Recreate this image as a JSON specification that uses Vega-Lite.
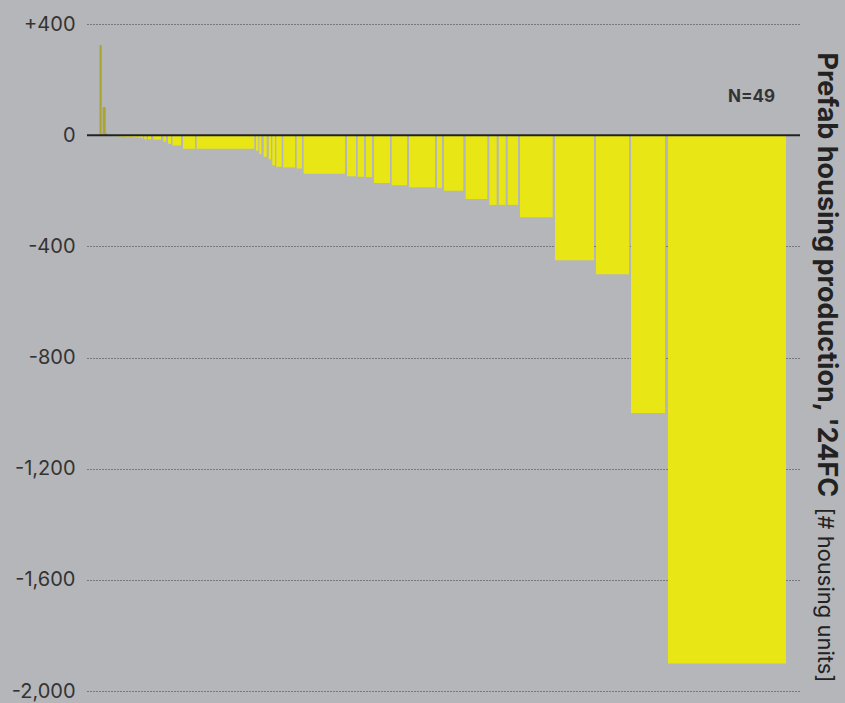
{
  "$schema": "https://vega.github.io/schema/vega-lite/v6.json",
  "width": 713,
  "height": 667,
  "autosize": {"type": "none"},
  "padding": {"left": 87, "top": 24, "right": 45, "bottom": 12},
  "background": "#b5b6b9",
  "config": {
    "view": {"stroke": null},
    "font": "Inter"
  },
  "datasets": {
    "bars": [
      {"x0": 12.5, "x1": 14.7, "value": 324, "sign": "pos"},
      {"x0": 15.7, "x1": 18.7, "value": 101, "sign": "pos"},
      {"x0": 19.0, "x1": 20.0, "value": 8, "sign": "pos"},
      {"x0": 20.5, "x1": 23.0, "value": -3, "sign": "neg"},
      {"x0": 23.5, "x1": 26.0, "value": -3, "sign": "neg"},
      {"x0": 26.5, "x1": 29.0, "value": -4, "sign": "neg"},
      {"x0": 29.5, "x1": 32.0, "value": -4, "sign": "neg"},
      {"x0": 32.5, "x1": 35.0, "value": -5, "sign": "neg"},
      {"x0": 35.5, "x1": 38.0, "value": -5, "sign": "neg"},
      {"x0": 38.5, "x1": 41.0, "value": -6, "sign": "neg"},
      {"x0": 41.5, "x1": 44.0, "value": -6, "sign": "neg"},
      {"x0": 44.5, "x1": 47.0, "value": -7, "sign": "neg"},
      {"x0": 47.5, "x1": 50.0, "value": -8, "sign": "neg"},
      {"x0": 50.5, "x1": 53.0, "value": -9, "sign": "neg"},
      {"x0": 53.5, "x1": 56.0, "value": -10, "sign": "neg"},
      {"x0": 57.3, "x1": 59.5, "value": -15, "sign": "neg"},
      {"x0": 61.0, "x1": 64.0, "value": -15, "sign": "neg"},
      {"x0": 66.5, "x1": 74.0, "value": -16, "sign": "neg"},
      {"x0": 76.5, "x1": 79.0, "value": -23, "sign": "neg"},
      {"x0": 81.0, "x1": 84.0, "value": -31, "sign": "neg"},
      {"x0": 85.5, "x1": 94.0, "value": -37, "sign": "neg"},
      {"x0": 96.0, "x1": 108.0, "value": -49, "sign": "neg"},
      {"x0": 109.7, "x1": 167.3, "value": -49, "sign": "neg"},
      {"x0": 169.0, "x1": 171.3, "value": -56, "sign": "neg"},
      {"x0": 172.3, "x1": 174.3, "value": -68, "sign": "neg"},
      {"x0": 176.7, "x1": 179.7, "value": -78, "sign": "neg"},
      {"x0": 181.7, "x1": 184.0, "value": -87, "sign": "neg"},
      {"x0": 185.3, "x1": 188.0, "value": -108, "sign": "neg"},
      {"x0": 189.3, "x1": 194.7, "value": -114, "sign": "neg"},
      {"x0": 196.3, "x1": 208.0, "value": -116, "sign": "neg"},
      {"x0": 209.7, "x1": 215.0, "value": -120, "sign": "neg"},
      {"x0": 216.7, "x1": 258.0, "value": -139, "sign": "neg"},
      {"x0": 260.0, "x1": 269.0, "value": -148, "sign": "neg"},
      {"x0": 270.7, "x1": 277.0, "value": -150, "sign": "neg"},
      {"x0": 279.0, "x1": 285.0, "value": -151, "sign": "neg"},
      {"x0": 287.0, "x1": 303.0, "value": -172, "sign": "neg"},
      {"x0": 304.7, "x1": 320.0, "value": -180, "sign": "neg"},
      {"x0": 322.0, "x1": 348.0, "value": -187, "sign": "neg"},
      {"x0": 350.0, "x1": 355.0, "value": -190, "sign": "neg"},
      {"x0": 357.0, "x1": 376.3, "value": -200, "sign": "neg"},
      {"x0": 378.7, "x1": 400.3, "value": -230, "sign": "neg"},
      {"x0": 402.3, "x1": 409.7, "value": -251, "sign": "neg"},
      {"x0": 411.7, "x1": 418.7, "value": -251, "sign": "neg"},
      {"x0": 420.7, "x1": 431.0, "value": -251, "sign": "neg"},
      {"x0": 433.0, "x1": 465.7, "value": -295, "sign": "neg"},
      {"x0": 468.0, "x1": 507.0, "value": -450, "sign": "neg"},
      {"x0": 509.0, "x1": 542.0, "value": -500, "sign": "neg"},
      {"x0": 544.0, "x1": 578.0, "value": -1000, "sign": "neg"},
      {"x0": 581.0, "x1": 699.0, "value": -1901, "sign": "neg"}
    ]
  },
  "layer": [
    {
      "data": {"name": "bars"},
      "mark": {"type": "bar"},
      "encoding": {
        "x": {"field": "x0", "type": "quantitative", "scale": {"domain": [0, 713], "nice": false, "zero": false}, "axis": null},
        "x2": {"field": "x1"},
        "y": {
          "field": "value", "type": "quantitative",
          "scale": {"domain": [-2000, 400], "nice": false},
          "axis": {
            "orient": "left",
            "values": [-2000, -1600, -1200, -800, -400, 0, 400],
            "labelExpr": "datum.value > 0 ? '+' + datum.label : replace(datum.label, '\u2212', '-')",
            "grid": true, "gridDash": [1, 2], "gridColor": "#3a3a3a", "gridWidth": 1,
            "domain": false, "ticks": false, "title": null,
            "labelFontSize": 20, "labelColor": "#333333", "labelPadding": 12, "labelFont": "Inter"
          }
        },
        "y2": {"datum": 0},
        "color": {"field": "sign", "type": "nominal", "scale": {"domain": ["pos", "neg"], "range": ["#aaa52e", "#e8e614"]}, "legend": null}
      }
    },
    {
      "data": {"values": [{"zero": 0}]},
      "mark": {"type": "rule", "color": "#222222", "strokeWidth": 2},
      "encoding": {
        "y": {
          "field": "zero", "type": "quantitative",
          "axis": {
            "orient": "right", "labels": false, "ticks": false, "domain": false, "grid": false,
            "title": "Prefab housing production, '24FC",
            "titleFontWeight": "bold", "titleFontSize": 27, "titleColor": "#222222",
            "titleAngle": 90, "titleAlign": "left", "titleBaseline": "alphabetic",
            "titleX": 17, "titleY": 28
          }
        }
      }
    },
    {
      "data": {"values": [{"label": "N=49", "px": 688, "py": 137}]},
      "mark": {"type": "text", "align": "right", "baseline": "middle", "fontWeight": "bold", "fontSize": 17, "color": "#333333"},
      "encoding": {
        "x": {"field": "px", "type": "quantitative"},
        "y": {
          "field": "py", "type": "quantitative",
          "axis": {
            "orient": "right", "labels": false, "ticks": false, "domain": false, "grid": false,
            "title": "[# housing units]",
            "titleFontWeight": "normal", "titleFontSize": 22, "titleColor": "#222222",
            "titleAngle": 90, "titleAlign": "left", "titleBaseline": "alphabetic",
            "titleX": 17, "titleY": 483
          }
        },
        "text": {"field": "label"}
      }
    }
  ],
  "resolve": {"axis": {"y": "independent"}}
}
